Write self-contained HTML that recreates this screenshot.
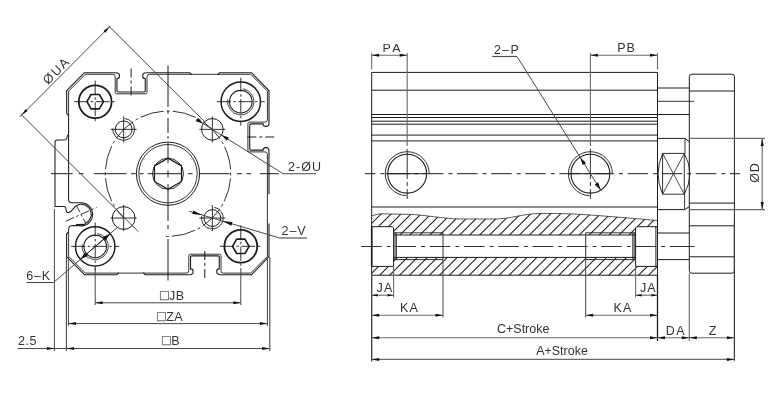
<!DOCTYPE html>
<html><head><meta charset="utf-8"><title>Drawing</title>
<style>
html,body{margin:0;padding:0;background:#fff;}
body{width:780px;height:420px;overflow:hidden;}
svg{display:block;font-family:"Liberation Sans",sans-serif;filter:blur(0.4px);}
</style></head><body>
<svg width="780" height="420" viewBox="0 0 780 420">
<rect width="780" height="420" fill="#fff"/>
<g stroke-linecap="butt" stroke-linejoin="round">
<path d="M115.95,72.70 Q119.45,72.70 119.45,75.31 L119.45,76.18 Q119.45,78.50 116.95,78.50 L116.95,90.80 Q116.95,92.00 118.15,92.00 L144.05,92.00 Q145.25,92.00 145.25,90.80 L145.25,78.50 Q142.75,78.50 142.75,76.18 L142.75,75.31 Q142.75,72.70 146.25,72.70" stroke="#1c1c1c" stroke-width="1.1" fill="none"/>
<path d="M269.00,122.90 Q269.00,126.40 266.39,126.40 L265.52,126.40 Q263.20,126.40 263.20,123.90 L250.90,123.90 Q249.70,123.90 249.70,125.10 L249.70,148.90 Q249.70,150.10 250.90,150.10 L263.20,150.10 Q263.20,147.60 265.52,147.60 L266.39,147.60 Q269.00,147.60 269.00,151.10" stroke="#1c1c1c" stroke-width="1.1" fill="none"/>
<path d="M220.25,274.70 Q216.75,274.70 216.75,272.09 L216.75,271.22 Q216.75,268.90 219.25,268.90 L219.25,257.10 Q219.25,255.90 218.05,255.90 L191.75,255.90 Q190.55,255.90 190.55,257.10 L190.55,268.90 Q193.05,268.90 193.05,271.22 L193.05,272.09 Q193.05,274.70 189.55,274.70" stroke="#1c1c1c" stroke-width="1.1" fill="none"/>
<path d="M112.80,74.30 Q115.20,74.30 115.20,76.70 L115.20,92.20 Q115.20,93.80 116.80,93.80 L145.40,93.80 Q147.00,93.80 147.00,92.20 L147.00,76.70 Q147.00,74.30 149.40,74.30" stroke="#1c1c1c" stroke-width="0.9" fill="none"/>
<path d="M267.40,119.70 Q267.40,122.10 265.00,122.10 L249.50,122.10 Q247.90,122.10 247.90,123.70 L247.90,150.30 Q247.90,151.90 249.50,151.90 L265.00,151.90 Q267.40,151.90 267.40,154.30" stroke="#1c1c1c" stroke-width="0.9" fill="none"/>
<path d="M223.40,273.10 Q221.00,273.10 221.00,270.70 L221.00,255.80 Q221.00,254.20 219.40,254.20 L190.40,254.20 Q188.80,254.20 188.80,255.80 L188.80,270.70 Q188.80,273.10 186.40,273.10" stroke="#1c1c1c" stroke-width="0.9" fill="none"/>
<path d="M68.6,115.6 L66.7,113.6 L66.7,90.69999999999999 L84.5,72.69999999999999 L115.95,72.69999999999999" stroke="#1c1c1c" stroke-width="1.1" fill="none"/>
<path d="M146.25,72.69999999999999 L189.8,72.69999999999999 L191.8,74.79999999999998" stroke="#1c1c1c" stroke-width="1.1" fill="none"/>
<path d="M217.5,74.79999999999998 L219.5,72.69999999999999 L251.5,72.69999999999999 L269.0,90.69999999999999 L269.0,122.90" stroke="#1c1c1c" stroke-width="1.1" fill="none"/>
<path d="M269.0,151.10 L269.0,194.3" stroke="#1c1c1c" stroke-width="1.1" fill="none"/>
<path d="M269.0,223.5 L269.0,256.7 L251.5,274.7 L220.25,274.7" stroke="#1c1c1c" stroke-width="1.1" fill="none"/>
<path d="M189.55,274.7 L145.2,274.7 L143.2,272.6" stroke="#1c1c1c" stroke-width="1.1" fill="none"/>
<path d="M118.8,272.6 L116.8,274.7 L84.5,274.7 L66.6,256.7 L66.6,234 L68.6,232" stroke="#1c1c1c" stroke-width="1.1" fill="none"/>
<path d="M68.6,114.2 L68.6,91.1 L85.4,74.29999999999998 L112.80,74.29999999999998" stroke="#1c1c1c" stroke-width="0.9" fill="none"/>
<path d="M149.40,74.29999999999998 L250.6,74.29999999999998 L267.4,91.1 L267.4,119.70" stroke="#1c1c1c" stroke-width="0.9" fill="none"/>
<path d="M267.4,154.30 L267.4,256.3 L250.6,273.1 L223.40,273.1" stroke="#1c1c1c" stroke-width="0.9" fill="none"/>
<path d="M186.40,273.1 L85.4,273.1 L68.6,256.3 L68.6,229.5" stroke="#1c1c1c" stroke-width="0.9" fill="none"/>
<line x1="247.30" y1="137.00" x2="274.20" y2="137.00" stroke="#1c1c1c" stroke-width="1.0" stroke-dasharray="9 3 3 3"/>
<line x1="204.80" y1="251.00" x2="204.80" y2="281.00" stroke="#1c1c1c" stroke-width="1.0" stroke-dasharray="9 3 3 3"/>
<line x1="131.10" y1="68.50" x2="131.10" y2="97.00" stroke="#1c1c1c" stroke-width="1.0" stroke-dasharray="9 3 3 3"/>
<path d="M68.6,114.2 L68.6,199.6 Q68.6,202.8 71.6,202.8 L81.0,202.8 A11.6,11.6 0 0 1 82.61,225.89 L72.0,225.6 Q68.6,225.8 68.6,229.8" stroke="#1c1c1c" stroke-width="1.05" fill="none"/>
<path d="M68.6,134 Q66.8,136 66.8,138.5 Q66.5,140 64,140 L57.5,140 Q55,140 55,142.5 L55,206.5 L64.0,206.5 Q65.9,206.7 66.0,208.8 Q66.0,212.5 68.4,212.7 Q70.6,212.5 72.6,209.6 Q75.0,206.2 77.74,204.94 A10.0,10.0 0 0 1 84.91,223.61" stroke="#1c1c1c" stroke-width="1.05" fill="none"/>
<path d="M76.0,224.9 L84.91,224.51" stroke="#1c1c1c" stroke-width="1.6" fill="none"/>
<line x1="65.70" y1="221.20" x2="96.60" y2="207.40" stroke="#1c1c1c" stroke-width="0.9" stroke-dasharray="9 2.5 2.5 2.5"/>
<line x1="76.70" y1="205.80" x2="85.80" y2="223.50" stroke="#1c1c1c" stroke-width="0.9" stroke-dasharray="7 2.5 2.5 2.5"/>
<path d="M51,173.7 L72.7,173.7 M78.8,173.7 L83.5,173.7 M94.2,173.7 L126.5,173.7 M131,173.7 L135.7,173.7 M139.5,173.7 L143.5,173.7 M147.6,173.7 L181,173.7 M188,173.7 L192.6,173.7 M198.8,173.7 L229.6,173.7 M237,173.7 L242,173.7 M246.5,173.7 L251,173.7 M260,173.7 L279,173.7" stroke="#1c1c1c" stroke-width="1.0" fill="none"/>
<path d="M168.0,65.5 L168.0,107 M168.0,111 L168.0,113.8 M168.0,118 L168.0,133 M168.0,136 L168.0,138.6 M168.0,142.8 L168.0,163 M168.0,170.5 L168.0,177.4 M168.0,184.2 L168.0,221 M168.0,225 L168.0,229 M168.0,239 L168.0,280.5" stroke="#1c1c1c" stroke-width="1.0" fill="none"/>
<path d="M123.66,218.04 A62.7,62.7 0 1 1 163.60,236.25" stroke="#1c1c1c" stroke-width="0.9" fill="none" stroke-dasharray="23.8 3 3 3" stroke-dashoffset="11.9"/>
<circle cx="168.00" cy="173.70" r="31.60" stroke="#1c1c1c" stroke-width="1.0" fill="none"/>
<circle cx="168.00" cy="173.70" r="29.20" stroke="#1c1c1c" stroke-width="0.9" fill="none"/>
<circle cx="168.00" cy="173.70" r="15.50" stroke="#1c1c1c" stroke-width="0.9" fill="none"/>
<polygon points="181.51,181.50 168.00,189.30 154.49,181.50 154.49,165.90 168.00,158.10 181.51,165.90" stroke="#1c1c1c" stroke-width="1.25" fill="none"/>
<circle cx="95.20" cy="101.70" r="16.40" stroke="#1c1c1c" stroke-width="1.8" fill="none"/>
<polygon points="103.50,101.70 99.35,108.89 91.05,108.89 86.90,101.70 91.05,94.51 99.35,94.51" stroke="#1c1c1c" stroke-width="1.6" fill="none"/>
<line x1="74.20" y1="101.70" x2="116.20" y2="101.70" stroke="#1c1c1c" stroke-width="0.9" stroke-dasharray="14 2.5 2.5 2.5"/>
<line x1="95.20" y1="80.70" x2="95.20" y2="122.70" stroke="#1c1c1c" stroke-width="0.9" stroke-dasharray="14 2.5 2.5 2.5"/>
<circle cx="240.80" cy="246.30" r="16.40" stroke="#1c1c1c" stroke-width="1.8" fill="none"/>
<polygon points="249.10,246.30 244.95,253.49 236.65,253.49 232.50,246.30 236.65,239.11 244.95,239.11" stroke="#1c1c1c" stroke-width="1.6" fill="none"/>
<line x1="219.80" y1="246.30" x2="261.80" y2="246.30" stroke="#1c1c1c" stroke-width="0.9" stroke-dasharray="14 2.5 2.5 2.5"/>
<line x1="240.80" y1="225.30" x2="240.80" y2="267.30" stroke="#1c1c1c" stroke-width="0.9" stroke-dasharray="14 2.5 2.5 2.5"/>
<circle cx="240.80" cy="101.70" r="19.70" stroke="#1c1c1c" stroke-width="1.45" fill="none"/>
<path d="M243.09,88.70 A13.20,13.20 0 1 1 227.80,99.41" stroke="#1c1c1c" stroke-width="0.8" fill="none"/>
<circle cx="240.80" cy="101.70" r="11.30" stroke="#1c1c1c" stroke-width="1.1" fill="none"/>
<line x1="216.80" y1="101.70" x2="264.80" y2="101.70" stroke="#1c1c1c" stroke-width="0.9" stroke-dasharray="14 2.5 2.5 2.5"/>
<line x1="240.80" y1="77.70" x2="240.80" y2="125.70" stroke="#1c1c1c" stroke-width="0.9" stroke-dasharray="14 2.5 2.5 2.5"/>
<circle cx="95.20" cy="246.40" r="19.70" stroke="#1c1c1c" stroke-width="1.45" fill="none"/>
<path d="M97.49,233.40 A13.20,13.20 0 1 1 82.20,244.11" stroke="#1c1c1c" stroke-width="0.8" fill="none"/>
<circle cx="95.20" cy="246.40" r="11.30" stroke="#1c1c1c" stroke-width="1.1" fill="none"/>
<line x1="71.20" y1="246.40" x2="119.20" y2="246.40" stroke="#1c1c1c" stroke-width="0.9" stroke-dasharray="14 2.5 2.5 2.5"/>
<line x1="95.20" y1="222.40" x2="95.20" y2="270.40" stroke="#1c1c1c" stroke-width="0.9" stroke-dasharray="14 2.5 2.5 2.5"/>
<circle cx="123.66" cy="129.36" r="8.40" stroke="#1c1c1c" stroke-width="1.0" fill="none"/>
<path d="M124.61,118.51 A10.90,10.90 0 1 1 112.81,128.41" stroke="#1c1c1c" stroke-width="0.9" fill="none"/>
<line x1="110.66" y1="129.36" x2="136.66" y2="129.36" stroke="#1c1c1c" stroke-width="0.9"/>
<line x1="123.66" y1="116.36" x2="123.66" y2="142.36" stroke="#1c1c1c" stroke-width="0.9"/>
<circle cx="212.34" cy="129.36" r="10.80" stroke="#1c1c1c" stroke-width="1.0" fill="none"/>
<line x1="199.34" y1="129.36" x2="225.34" y2="129.36" stroke="#1c1c1c" stroke-width="0.9"/>
<line x1="212.34" y1="116.36" x2="212.34" y2="142.36" stroke="#1c1c1c" stroke-width="0.9"/>
<circle cx="123.66" cy="218.04" r="11.40" stroke="#1c1c1c" stroke-width="1.0" fill="none"/>
<line x1="110.66" y1="218.04" x2="136.66" y2="218.04" stroke="#1c1c1c" stroke-width="0.9"/>
<line x1="123.66" y1="205.04" x2="123.66" y2="231.04" stroke="#1c1c1c" stroke-width="0.9"/>
<circle cx="212.34" cy="218.04" r="8.40" stroke="#1c1c1c" stroke-width="1.0" fill="none"/>
<path d="M214.23,207.30 A10.90,10.90 0 1 1 201.60,216.14" stroke="#1c1c1c" stroke-width="0.9" fill="none"/>
<line x1="199.34" y1="218.04" x2="225.34" y2="218.04" stroke="#1c1c1c" stroke-width="0.9"/>
<line x1="212.34" y1="205.04" x2="212.34" y2="231.04" stroke="#1c1c1c" stroke-width="0.9"/>
<line x1="19.70" y1="117.00" x2="110.50" y2="25.80" stroke="#484848" stroke-width="1.0"/>
<polygon points="21.70,115.00 25.66,109.06 27.64,111.04" fill="#111"/>
<polygon points="109.50,26.80 105.54,32.74 103.56,30.76" fill="#111"/>
<line x1="20.70" y1="114.00" x2="138.50" y2="231.80" stroke="#484848" stroke-width="1.0"/>
<line x1="108.50" y1="25.80" x2="205.34" y2="122.36" stroke="#484848" stroke-width="1.0"/>
<text transform="translate(59.50 73.70) rotate(-45) scale(1 1.0)" font-size="12.8" text-anchor="middle" fill="#333" letter-spacing="1.7">ØUA</text>
<line x1="283.00" y1="173.70" x2="316.00" y2="173.70" stroke="#484848" stroke-width="1.1"/>
<line x1="283.00" y1="173.70" x2="196.50" y2="119.43" stroke="#484848" stroke-width="1.0"/>
<polygon points="221.48,135.10 228.85,137.48 226.83,140.70" fill="#111"/>
<polygon points="203.19,123.62 195.82,121.25 197.84,118.03" fill="#111"/>
<text transform="translate(305.00 170.90) scale(1 1.0)" font-size="12.5" text-anchor="middle" fill="#333" letter-spacing="1.0">2-ØU</text>
<line x1="279.60" y1="238.00" x2="307.00" y2="238.00" stroke="#484848" stroke-width="1.1"/>
<line x1="279.60" y1="238.00" x2="189.33" y2="211.21" stroke="#484848" stroke-width="1.0"/>
<polygon points="222.79,221.14 232.43,222.02 231.35,225.66" fill="#111"/>
<polygon points="201.89,214.93 192.24,214.05 193.32,210.41" fill="#111"/>
<text transform="translate(294.00 235.30) scale(1 1.0)" font-size="12.5" text-anchor="middle" fill="#333" letter-spacing="0.9">2–V</text>
<line x1="26.50" y1="282.50" x2="53.60" y2="282.50" stroke="#484848" stroke-width="1.1"/>
<line x1="53.60" y1="282.50" x2="116.87" y2="227.88" stroke="#484848" stroke-width="1.0"/>
<polygon points="110.21,233.63 105.66,240.60 102.65,237.11" fill="#111"/>
<polygon points="80.39,259.37 84.94,252.40 87.95,255.89" fill="#111"/>
<line x1="80.16" y1="259.57" x2="110.44" y2="233.43" stroke="#1c1c1c" stroke-width="0.9"/>
<text transform="translate(38.60 280.10) scale(1 1.0)" font-size="12.5" text-anchor="middle" fill="#333" letter-spacing="0.9">6–K</text>
<line x1="95.20" y1="268.00" x2="95.20" y2="305.00" stroke="#484848" stroke-width="1.0"/>
<line x1="240.80" y1="268.00" x2="240.80" y2="305.00" stroke="#484848" stroke-width="1.0"/>
<line x1="95.20" y1="302.80" x2="240.80" y2="302.80" stroke="#484848" stroke-width="1.0"/>
<polygon points="95.20,302.80 102.70,301.30 102.70,304.30" fill="#111"/>
<polygon points="240.80,302.80 233.30,304.30 233.30,301.30" fill="#111"/>
<text transform="translate(172.20 300.20) scale(1 1.0)" font-size="12.5" text-anchor="middle" fill="#333" letter-spacing="0.4"><tspan font-size="14.5" fill="#555" stroke="#666" stroke-width="0.25">□</tspan>JB</text>
<line x1="68.40" y1="257.00" x2="68.40" y2="326.00" stroke="#484848" stroke-width="1.0"/>
<line x1="267.40" y1="257.00" x2="267.40" y2="326.00" stroke="#484848" stroke-width="1.0"/>
<line x1="68.40" y1="323.60" x2="267.40" y2="323.60" stroke="#484848" stroke-width="1.0"/>
<polygon points="68.40,323.60 75.90,322.10 75.90,325.10" fill="#111"/>
<polygon points="267.40,323.60 259.90,325.10 259.90,322.10" fill="#111"/>
<text transform="translate(170.00 320.90) scale(1 1.0)" font-size="12.5" text-anchor="middle" fill="#333" letter-spacing="0.4"><tspan font-size="14.5" fill="#555" stroke="#666" stroke-width="0.25">□</tspan>ZA</text>
<line x1="66.40" y1="257.00" x2="66.40" y2="351.00" stroke="#484848" stroke-width="1.1"/>
<line x1="269.80" y1="257.00" x2="269.80" y2="351.00" stroke="#484848" stroke-width="1.1"/>
<line x1="17.50" y1="348.50" x2="269.60" y2="348.50" stroke="#484848" stroke-width="1.0"/>
<polygon points="66.60,348.50 74.10,347.00 74.10,350.00" fill="#111"/>
<polygon points="269.60,348.50 262.10,350.00 262.10,347.00" fill="#111"/>
<text transform="translate(171.00 345.00) scale(1 1.0)" font-size="12.5" text-anchor="middle" fill="#333" letter-spacing="0.4"><tspan font-size="14.5" fill="#555" stroke="#666" stroke-width="0.25">□</tspan>B</text>
<line x1="54.40" y1="209.00" x2="54.40" y2="351.00" stroke="#484848" stroke-width="1.0"/>
<polygon points="54.40,348.50 46.90,350.00 46.90,347.00" fill="#111"/>
<text transform="translate(27.50 345.00) scale(1 1.0)" font-size="12.5" text-anchor="middle" fill="#333" letter-spacing="0.6">2.5</text>
<path d="M371.7,275.2 L371.7,72.4 L657.5,72.4 L657.5,275.2" stroke="#1c1c1c" stroke-width="1.0" fill="none"/>
<line x1="371.70" y1="90.20" x2="657.50" y2="90.20" stroke="#1c1c1c" stroke-width="1.0"/>
<line x1="371.70" y1="114.50" x2="657.50" y2="114.50" stroke="#1c1c1c" stroke-width="1.0"/>
<line x1="371.70" y1="117.50" x2="657.50" y2="117.50" stroke="#1c1c1c" stroke-width="1.0"/>
<line x1="371.70" y1="121.20" x2="657.50" y2="121.20" stroke="#1c1c1c" stroke-width="1.0"/>
<line x1="371.70" y1="124.20" x2="657.50" y2="124.20" stroke="#1c1c1c" stroke-width="1.0"/>
<line x1="371.70" y1="135.10" x2="657.50" y2="135.10" stroke="#1c1c1c" stroke-width="1.0"/>
<line x1="371.70" y1="140.90" x2="657.50" y2="140.90" stroke="#1c1c1c" stroke-width="1.0"/>
<line x1="371.70" y1="207.00" x2="657.50" y2="207.00" stroke="#1c1c1c" stroke-width="1.0"/>
<line x1="657.50" y1="88.00" x2="689.30" y2="88.00" stroke="#1c1c1c" stroke-width="1.0"/>
<line x1="657.50" y1="114.50" x2="689.30" y2="114.50" stroke="#1c1c1c" stroke-width="1.0"/>
<line x1="657.50" y1="233.00" x2="689.30" y2="233.00" stroke="#1c1c1c" stroke-width="1.0"/>
<line x1="657.50" y1="259.60" x2="689.30" y2="259.60" stroke="#1c1c1c" stroke-width="1.0"/>
<line x1="657.50" y1="101.30" x2="694.20" y2="101.30" stroke="#1c1c1c" stroke-width="0.9"/>
<path d="M657.5,138.4 L685,138.4 L689.3,141.6" stroke="#1c1c1c" stroke-width="1.0" fill="none"/>
<path d="M657.5,209.6 L684.6,209.6 L689.3,206.6" stroke="#1c1c1c" stroke-width="1.0" fill="none"/>
<line x1="685.00" y1="138.40" x2="685.00" y2="153.40" stroke="#1c1c1c" stroke-width="0.9"/>
<line x1="684.60" y1="194.20" x2="684.60" y2="209.60" stroke="#1c1c1c" stroke-width="0.9"/>
<path d="M662.6,153.4 L684.3,153.4 M662.6,194.2 L684.3,194.2 M662.6,153.4 L662.6,194.2 M684.3,153.4 L684.3,194.2" stroke="#1c1c1c" stroke-width="0.9" fill="none"/>
<path d="M662.6,153.4 L684.3,194.2 M684.3,153.4 L662.6,194.2" stroke="#1c1c1c" stroke-width="0.8" fill="none"/>
<path d="M662.6,153.4 Q653.6,173.7 662.6,194.2" stroke="#1c1c1c" stroke-width="0.9" fill="none"/>
<path d="M684.3,153.4 Q695.5,173.7 684.3,194.2" stroke="#1c1c1c" stroke-width="0.9" fill="none"/>
<path d="M689.3,270.59999999999997 L689.3,76.8 Q689.3,74.2 691.9,74.2 L731.8,74.2 Q734.4,74.2 734.4,76.8 L734.4,270.59999999999997 Q734.4,273.2 731.8,273.2 L691.9,273.2 Q689.3,273.2 689.3,270.59999999999997 Z" stroke="#1c1c1c" stroke-width="1.0" fill="none"/>
<line x1="689.30" y1="91.00" x2="734.40" y2="91.00" stroke="#1c1c1c" stroke-width="1.0"/>
<line x1="689.30" y1="203.10" x2="734.40" y2="203.10" stroke="#1c1c1c" stroke-width="1.0"/>
<line x1="689.30" y1="225.80" x2="734.40" y2="225.80" stroke="#1c1c1c" stroke-width="1.0"/>
<line x1="689.30" y1="256.80" x2="734.40" y2="256.80" stroke="#1c1c1c" stroke-width="1.0"/>
<line x1="364.90" y1="173.70" x2="740.00" y2="173.70" stroke="#1c1c1c" stroke-width="1.0" stroke-dasharray="20.5 5 4 4.6" stroke-dashoffset="10.1"/>
<line x1="361.00" y1="246.50" x2="694.00" y2="246.50" stroke="#1c1c1c" stroke-width="0.9" stroke-dasharray="20.7 5 4 4.6"/>
<line x1="688.00" y1="246.50" x2="694.60" y2="246.50" stroke="#1c1c1c" stroke-width="0.9"/>
<circle cx="407.20" cy="173.70" r="19.40" stroke="#1c1c1c" stroke-width="1.1" fill="none"/>
<path d="M406.43,195.69 A22.00,22.00 0 1 1 429.20,173.70" stroke="#1c1c1c" stroke-width="0.9" fill="none"/>
<line x1="385.80" y1="173.70" x2="426.90" y2="173.70" stroke="#1c1c1c" stroke-width="1.0"/>
<circle cx="590.40" cy="173.70" r="19.40" stroke="#1c1c1c" stroke-width="1.1" fill="none"/>
<path d="M589.63,195.69 A22.00,22.00 0 1 1 612.40,173.70" stroke="#1c1c1c" stroke-width="0.9" fill="none"/>
<line x1="569.00" y1="173.70" x2="610.10" y2="173.70" stroke="#1c1c1c" stroke-width="1.0"/>
<line x1="407.20" y1="53.00" x2="407.20" y2="146.00" stroke="#6a6a6a" stroke-width="1.1"/>
<line x1="407.20" y1="149.00" x2="407.20" y2="199.00" stroke="#1c1c1c" stroke-width="0.9" stroke-dasharray="30 3 4 3"/>
<line x1="590.40" y1="53.00" x2="590.40" y2="146.00" stroke="#6a6a6a" stroke-width="1.1"/>
<line x1="590.40" y1="149.00" x2="590.40" y2="199.00" stroke="#1c1c1c" stroke-width="0.9" stroke-dasharray="30 3 4 3"/>
<line x1="371.70" y1="53.00" x2="371.70" y2="69.60" stroke="#6a6a6a" stroke-width="1.1"/>
<line x1="657.50" y1="53.00" x2="657.50" y2="69.60" stroke="#6a6a6a" stroke-width="1.1"/>
<line x1="371.70" y1="55.20" x2="407.20" y2="55.20" stroke="#6a6a6a" stroke-width="1.1"/>
<polygon points="371.70,55.20 379.20,53.70 379.20,56.70" fill="#111"/>
<polygon points="407.20,55.20 399.70,56.70 399.70,53.70" fill="#111"/>
<line x1="590.40" y1="55.20" x2="657.50" y2="55.20" stroke="#6a6a6a" stroke-width="1.1"/>
<polygon points="590.40,55.20 597.90,53.70 597.90,56.70" fill="#111"/>
<polygon points="657.50,55.20 650.00,56.70 650.00,53.70" fill="#111"/>
<text transform="translate(392.60 51.60) scale(1 0.92)" font-size="12.5" text-anchor="middle" fill="#333" letter-spacing="2.2">PA</text>
<text transform="translate(626.60 51.80) scale(1 0.98)" font-size="12.5" text-anchor="middle" fill="#333" letter-spacing="1.0">PB</text>
<line x1="492.30" y1="56.50" x2="517.00" y2="56.50" stroke="#484848" stroke-width="1.15"/>
<line x1="517.00" y1="56.50" x2="601.33" y2="191.16" stroke="#484848" stroke-width="1.0"/>
<polygon points="580.10,157.26 586.04,162.98 582.65,165.10" fill="#111"/>
<polygon points="600.70,190.14 594.76,184.42 598.15,182.30" fill="#111"/>
<text transform="translate(507.00 54.00) scale(1 1.0)" font-size="12.5" text-anchor="middle" fill="#333" letter-spacing="1.2">2–P</text>
<line x1="689.30" y1="138.40" x2="765.00" y2="138.40" stroke="#6a6a6a" stroke-width="1.1"/>
<line x1="689.30" y1="209.60" x2="765.00" y2="209.60" stroke="#6a6a6a" stroke-width="1.1"/>
<line x1="762.20" y1="138.40" x2="762.20" y2="209.60" stroke="#6a6a6a" stroke-width="1.1"/>
<polygon points="762.20,138.40 763.70,145.90 760.70,145.90" fill="#111"/>
<polygon points="762.20,209.60 760.70,202.10 763.70,202.10" fill="#111"/>
<text transform="translate(758.50 172.60) rotate(-90) scale(1 1.0)" font-size="12.5" text-anchor="middle" fill="#333" letter-spacing="0.8">ØD</text>
<path d="M371.7,215.7 L379.5,213.8 L411,214.4 C422,214.6 444,218.8 460,219.0 L494,219.0 C512,218.9 522,213.6 541,213.5 L555,213.5 C575,213.6 600,215.5 657.5,220.5" stroke="#5a5a5a" stroke-width="1.0" fill="none"/>
<clipPath id="hu"><path d="M371.7,215.7 L379.5,213.8 L411,214.4 C422,214.6 444,218.8 460,219.0 L494,219.0 C512,218.9 522,213.6 541,213.5 L555,213.5 C575,213.6 600,215.5 657.5,220.5 L657.5,226.7 L635.6,226.7 L635.6,235 L393.6,235 L393.6,226.7 L371.7,226.7 Z"/></clipPath>
<clipPath id="hl"><path d="M371.7,266.4 L393.6,266.4 L393.6,257.4 L635.6,257.4 L635.6,266.4 L657.5,266.4 L657.5,275.2 L371.7,275.2 Z"/></clipPath>
<path d="M288.04,277.2 L356.04,209.2 M298.00,277.2 L366.00,209.2 M307.96,277.2 L375.96,209.2 M317.92,277.2 L385.92,209.2 M327.88,277.2 L395.88,209.2 M337.84,277.2 L405.84,209.2 M347.80,277.2 L415.80,209.2 M357.76,277.2 L425.76,209.2 M367.72,277.2 L435.72,209.2 M377.68,277.2 L445.68,209.2 M387.64,277.2 L455.64,209.2 M397.60,277.2 L465.60,209.2 M407.56,277.2 L475.56,209.2 M417.52,277.2 L485.52,209.2 M427.48,277.2 L495.48,209.2 M437.44,277.2 L505.44,209.2 M447.40,277.2 L515.40,209.2 M457.36,277.2 L525.36,209.2 M467.32,277.2 L535.32,209.2 M477.28,277.2 L545.28,209.2 M487.24,277.2 L555.24,209.2 M497.20,277.2 L565.20,209.2 M507.16,277.2 L575.16,209.2 M517.12,277.2 L585.12,209.2 M527.08,277.2 L595.08,209.2 M537.04,277.2 L605.04,209.2 M547.00,277.2 L615.00,209.2 M556.96,277.2 L624.96,209.2 M566.92,277.2 L634.92,209.2 M576.88,277.2 L644.88,209.2 M586.84,277.2 L654.84,209.2 M596.80,277.2 L664.80,209.2 M606.76,277.2 L674.76,209.2 M616.72,277.2 L684.72,209.2 M626.68,277.2 L694.68,209.2 M636.64,277.2 L704.64,209.2 M646.60,277.2 L714.60,209.2 M656.56,277.2 L724.56,209.2" stroke="#1c1c1c" stroke-width="1.05" fill="none" clip-path="url(#hu)"/>
<path d="M288.04,277.2 L356.04,209.2 M298.00,277.2 L366.00,209.2 M307.96,277.2 L375.96,209.2 M317.92,277.2 L385.92,209.2 M327.88,277.2 L395.88,209.2 M337.84,277.2 L405.84,209.2 M347.80,277.2 L415.80,209.2 M357.76,277.2 L425.76,209.2 M367.72,277.2 L435.72,209.2 M377.68,277.2 L445.68,209.2 M387.64,277.2 L455.64,209.2 M397.60,277.2 L465.60,209.2 M407.56,277.2 L475.56,209.2 M417.52,277.2 L485.52,209.2 M427.48,277.2 L495.48,209.2 M437.44,277.2 L505.44,209.2 M447.40,277.2 L515.40,209.2 M457.36,277.2 L525.36,209.2 M467.32,277.2 L535.32,209.2 M477.28,277.2 L545.28,209.2 M487.24,277.2 L555.24,209.2 M497.20,277.2 L565.20,209.2 M507.16,277.2 L575.16,209.2 M517.12,277.2 L585.12,209.2 M527.08,277.2 L595.08,209.2 M537.04,277.2 L605.04,209.2 M547.00,277.2 L615.00,209.2 M556.96,277.2 L624.96,209.2 M566.92,277.2 L634.92,209.2 M576.88,277.2 L644.88,209.2 M586.84,277.2 L654.84,209.2 M596.80,277.2 L664.80,209.2 M606.76,277.2 L674.76,209.2 M616.72,277.2 L684.72,209.2 M626.68,277.2 L694.68,209.2 M636.64,277.2 L704.64,209.2 M646.60,277.2 L714.60,209.2 M656.56,277.2 L724.56,209.2" stroke="#1c1c1c" stroke-width="1.05" fill="none" clip-path="url(#hl)"/>
<line x1="393.60" y1="235.00" x2="635.60" y2="235.00" stroke="#1c1c1c" stroke-width="1.0"/>
<line x1="393.60" y1="257.40" x2="635.60" y2="257.40" stroke="#1c1c1c" stroke-width="1.0"/>
<line x1="393.60" y1="232.80" x2="443.00" y2="232.80" stroke="#1c1c1c" stroke-width="0.9"/>
<line x1="585.70" y1="232.80" x2="635.60" y2="232.80" stroke="#1c1c1c" stroke-width="0.9"/>
<line x1="393.60" y1="259.60" x2="443.00" y2="259.60" stroke="#1c1c1c" stroke-width="0.9"/>
<line x1="585.70" y1="259.60" x2="635.60" y2="259.60" stroke="#1c1c1c" stroke-width="0.9"/>
<line x1="443.00" y1="232.80" x2="443.00" y2="259.60" stroke="#1c1c1c" stroke-width="0.9"/>
<line x1="585.70" y1="232.80" x2="585.70" y2="259.60" stroke="#1c1c1c" stroke-width="0.9"/>
<path d="M371.7,226.7 L392.40000000000003,226.7 L393.6,227.9 L393.6,266.4 L371.7,266.4" stroke="#1c1c1c" stroke-width="1.0" fill="none"/>
<path d="M657.5,226.7 L636.8000000000001,226.7 L635.6,227.9 L635.6,266.4 L657.5,266.4" stroke="#1c1c1c" stroke-width="1.0" fill="none"/>
<line x1="395.00" y1="232.80" x2="395.00" y2="259.60" stroke="#1c1c1c" stroke-width="0.9"/>
<line x1="396.40" y1="232.80" x2="396.40" y2="259.60" stroke="#1c1c1c" stroke-width="0.9"/>
<line x1="634.20" y1="232.80" x2="634.20" y2="259.60" stroke="#1c1c1c" stroke-width="0.9"/>
<line x1="632.80" y1="232.80" x2="632.80" y2="259.60" stroke="#1c1c1c" stroke-width="0.9"/>
<line x1="371.70" y1="226.00" x2="371.70" y2="266.50" stroke="#1c1c1c" stroke-width="1.6"/>
<line x1="655.90" y1="226.00" x2="655.90" y2="266.50" stroke="#1c1c1c" stroke-width="1.0"/>
<line x1="371.70" y1="275.20" x2="657.50" y2="275.20" stroke="#1c1c1c" stroke-width="1.0"/>
<line x1="371.70" y1="275.20" x2="371.70" y2="361.50" stroke="#3a3a3a" stroke-width="1.3"/>
<line x1="393.60" y1="266.00" x2="393.60" y2="297.50" stroke="#6a6a6a" stroke-width="1.1"/>
<line x1="443.00" y1="260.00" x2="443.00" y2="317.50" stroke="#484848" stroke-width="1.0"/>
<line x1="635.60" y1="266.00" x2="635.60" y2="297.50" stroke="#6a6a6a" stroke-width="1.1"/>
<line x1="585.70" y1="260.00" x2="585.70" y2="317.50" stroke="#484848" stroke-width="1.0"/>
<line x1="657.50" y1="275.20" x2="657.50" y2="341.00" stroke="#1c1c1c" stroke-width="1.3"/>
<line x1="689.30" y1="273.00" x2="689.30" y2="341.00" stroke="#6a6a6a" stroke-width="1.1"/>
<line x1="734.40" y1="222.00" x2="734.40" y2="360.80" stroke="#3a3a3a" stroke-width="1.2"/>
<line x1="371.70" y1="295.20" x2="393.60" y2="295.20" stroke="#6a6a6a" stroke-width="1.1"/>
<polygon points="371.70,295.20 377.70,293.90 377.70,296.50" fill="#111"/>
<polygon points="393.60,295.20 387.60,296.50 387.60,293.90" fill="#111"/>
<line x1="635.60" y1="295.20" x2="657.50" y2="295.20" stroke="#6a6a6a" stroke-width="1.1"/>
<polygon points="635.60,295.20 641.60,293.90 641.60,296.50" fill="#111"/>
<polygon points="657.50,295.20 651.50,296.50 651.50,293.90" fill="#111"/>
<text transform="translate(385.10 291.60) scale(1 0.96)" font-size="12.5" text-anchor="middle" fill="#333" letter-spacing="1.2">JA</text>
<text transform="translate(648.40 291.60) scale(1 0.96)" font-size="12.5" text-anchor="middle" fill="#333" letter-spacing="1.2">JA</text>
<line x1="371.70" y1="315.20" x2="443.00" y2="315.20" stroke="#6a6a6a" stroke-width="1.1"/>
<polygon points="371.70,315.20 379.20,313.70 379.20,316.70" fill="#111"/>
<polygon points="443.00,315.20 435.50,316.70 435.50,313.70" fill="#111"/>
<line x1="585.70" y1="315.20" x2="657.50" y2="315.20" stroke="#6a6a6a" stroke-width="1.1"/>
<polygon points="585.70,315.20 593.20,313.70 593.20,316.70" fill="#111"/>
<polygon points="657.50,315.20 650.00,316.70 650.00,313.70" fill="#111"/>
<text transform="translate(409.60 311.50) scale(1 0.95)" font-size="12.5" text-anchor="middle" fill="#333" letter-spacing="1.2">KA</text>
<text transform="translate(623.00 311.50) scale(1 0.95)" font-size="12.5" text-anchor="middle" fill="#333" letter-spacing="1.2">KA</text>
<line x1="371.70" y1="337.80" x2="734.40" y2="337.80" stroke="#6a6a6a" stroke-width="1.1"/>
<polygon points="371.70,337.80 379.20,336.30 379.20,339.30" fill="#111"/>
<polygon points="657.50,337.80 650.00,339.30 650.00,336.30" fill="#111"/>
<polygon points="657.50,337.80 665.00,336.30 665.00,339.30" fill="#111"/>
<polygon points="689.30,337.80 681.80,339.30 681.80,336.30" fill="#111"/>
<polygon points="689.30,337.80 696.80,336.30 696.80,339.30" fill="#111"/>
<polygon points="734.40,337.80 726.90,339.30 726.90,336.30" fill="#111"/>
<text transform="translate(523.20 333.30) scale(1 1.02)" font-size="12.5" text-anchor="middle" fill="#333">C+Stroke</text>
<text transform="translate(676.00 335.30) scale(1 1.0)" font-size="12.5" text-anchor="middle" fill="#333" letter-spacing="1.6">DA</text>
<text transform="translate(712.60 335.30) scale(1 1.0)" font-size="12.5" text-anchor="middle" fill="#333">Z</text>
<line x1="371.70" y1="359.40" x2="734.40" y2="359.40" stroke="#6a6a6a" stroke-width="1.1"/>
<polygon points="371.70,359.40 379.20,357.90 379.20,360.90" fill="#111"/>
<polygon points="734.40,359.40 726.90,360.90 726.90,357.90" fill="#111"/>
<text transform="translate(562.00 355.00) scale(1 1.02)" font-size="12.5" text-anchor="middle" fill="#333">A+Stroke</text>
</g>
</svg>
</body></html>
